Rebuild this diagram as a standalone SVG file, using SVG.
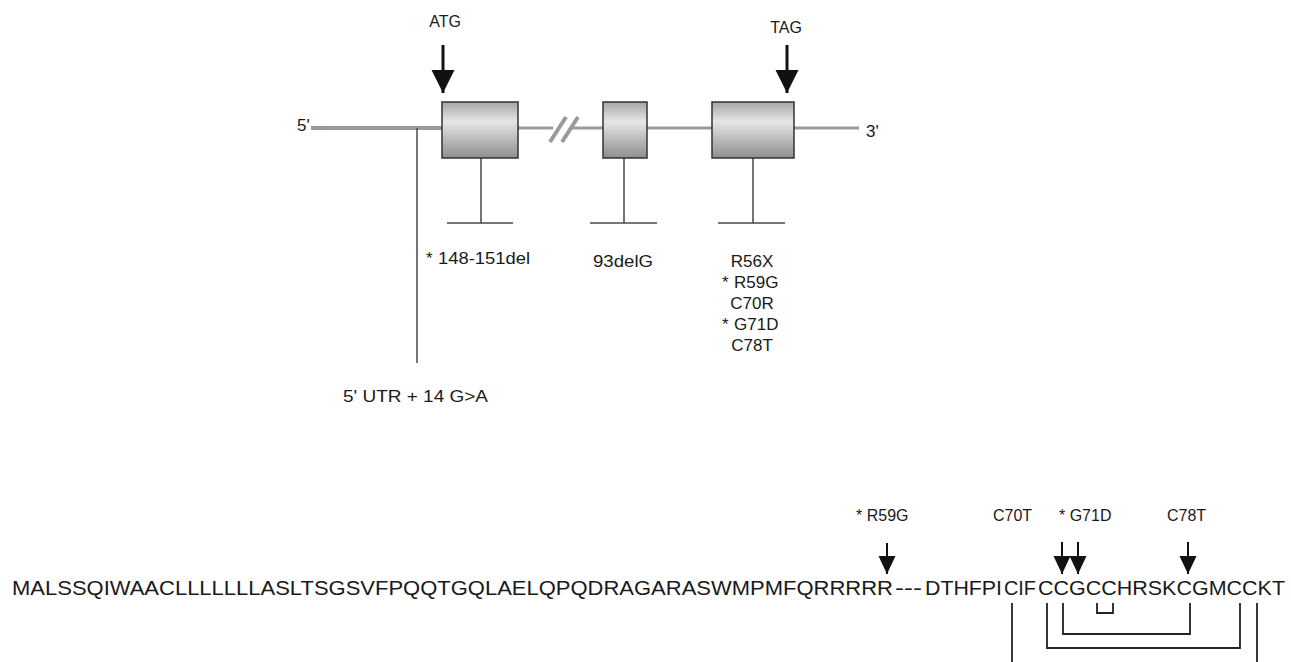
<svg xmlns="http://www.w3.org/2000/svg" width="1291" height="662" viewBox="0 0 1291 662">
<style>
text{font-family:"Liberation Sans",Arial,sans-serif;fill:#1a1a1a}
.lbl{font-size:17px}
.small{font-size:16px}
.seq{font-size:21px}
.gene{stroke:#9a9a9a;fill:none}
.stem{stroke:#4a4a4a;stroke-width:1.5;fill:none}
.bond{stroke:#222;stroke-width:1.8;fill:none}
.exon{fill:url(#exg);stroke:#333;stroke-width:1.5}
.arT{stroke:#111;stroke-width:3;marker-end:url(#headT)}
.arB{stroke:#111;stroke-width:2;marker-end:url(#headB)}
</style>
<defs>
<linearGradient id="exg" x1="0" y1="0" x2="0" y2="1">
<stop offset="0" stop-color="#a6a6a6"/>
<stop offset="0.35" stop-color="#e6e6e6"/>
<stop offset="1" stop-color="#8e8e8e"/>
</linearGradient>
<marker id="headT" markerUnits="userSpaceOnUse" markerWidth="24" markerHeight="24" refX="23" refY="11.5" orient="auto" viewBox="0 0 24 24">
<path d="M0,0 L23,11.5 L0,23 z" fill="#111"/>
</marker>
<marker id="headB" markerUnits="userSpaceOnUse" markerWidth="19" markerHeight="18" refX="18" refY="8.5" orient="auto" viewBox="0 0 19 18">
<path d="M0,0 L18,8.5 L0,17 z" fill="#111"/>
</marker>
</defs>
<rect width="1291" height="662" fill="#fff"/>

<g id="connectors">
<line class="gene" x1="311" y1="128" x2="442" y2="128" stroke-width="4"/>
<line class="gene" x1="518" y1="128" x2="553" y2="128" stroke-width="3"/>
<line class="gene" x1="572" y1="128" x2="603" y2="128" stroke-width="3"/>
<line class="gene" x1="550" y1="142" x2="566" y2="117" stroke-width="4"/>
<line class="gene" x1="562" y1="142" x2="578" y2="117" stroke-width="4"/>
<line class="gene" x1="647" y1="128" x2="712" y2="128" stroke-width="3"/>
<line class="gene" x1="794" y1="128" x2="859" y2="128" stroke-width="3"/>
<line class="arT" x1="443" y1="45" x2="443" y2="93"/>
<line class="arT" x1="787" y1="45" x2="787" y2="93"/>
<line class="stem" x1="417" y1="128" x2="417" y2="363"/>
<path class="stem" d="M481,158 V223 M447,223 H513"/>
<path class="stem" d="M624,158 V223 M590,223 H657"/>
<path class="stem" d="M753,158 V223 M718,223 H785"/>
<line class="arB" x1="887" y1="543" x2="887" y2="574"/>
<line class="arB" x1="1062" y1="542" x2="1062" y2="574"/>
<line class="arB" x1="1078" y1="542" x2="1078" y2="574"/>
<line class="arB" x1="1188" y1="542" x2="1188" y2="574"/>
<path class="bond" d="M1012,603 V662"/>
<path class="bond" d="M1257,603 V662"/>
<path class="bond" d="M1047,603 V648 H1240 V603"/>
<path class="bond" d="M1063,603 V634 H1190 V603"/>
<path class="bond" d="M1097,603 V613 H1113 V603"/>
</g>

<g id="exon1"><rect class="exon" x="442" y="102" width="76" height="56"/></g>
<g id="exon2"><rect class="exon" x="603" y="102" width="44" height="56"/></g>
<g id="exon3"><rect class="exon" x="712" y="102" width="82" height="56"/></g>

<g id="end5"><text x="297" y="131" class="lbl">5'</text></g>
<g id="end3"><text x="866" y="137" class="lbl">3'</text></g>
<g id="atg"><text x="445" y="27" class="small" text-anchor="middle">ATG</text></g>
<g id="tag"><text x="786" y="33" class="small" text-anchor="middle">TAG</text></g>

<g id="mut-utr"><text x="343" y="402" class="lbl" textLength="145" lengthAdjust="spacingAndGlyphs">5' UTR + 14 G&gt;A</text></g>
<g id="mut-ex1"><text x="426" y="264" class="lbl">*</text><text x="438" y="264" class="lbl" textLength="92" lengthAdjust="spacingAndGlyphs">148-151del</text></g>
<g id="mut-ex2"><text x="593" y="267" class="lbl" textLength="60" lengthAdjust="spacingAndGlyphs">93delG</text></g>
<g id="mut-ex3">
<text x="752" y="267" class="lbl" text-anchor="middle">R56X</text>
<text x="722" y="288" class="lbl">*</text><text x="734" y="288" class="lbl">R59G</text>
<text x="752" y="309" class="lbl" text-anchor="middle">C70R</text>
<text x="722" y="330" class="lbl">*</text><text x="734" y="330" class="lbl">G71D</text>
<text x="752" y="351" class="lbl" text-anchor="middle">C78T</text>
</g>

<g id="protein">
<text x="12" y="595" class="seq" textLength="881" lengthAdjust="spacingAndGlyphs">MALSSQIWAACLLLLLLLASLTSGSVFPQQTGQLAELQPQDRAGARASWMPMFQRRRRR</text>
<text x="895" y="595" class="seq" textLength="27" lengthAdjust="spacingAndGlyphs">---</text>
<text x="925" y="595" class="seq" textLength="77" lengthAdjust="spacingAndGlyphs">DTHFPI</text>
<text x="1004" y="595" class="seq" textLength="32" lengthAdjust="spacingAndGlyphs">CIF</text>
<text x="1038" y="595" class="seq" textLength="247" lengthAdjust="spacingAndGlyphs">CCGCCHRSKCGMCCKT</text>
</g>
<g id="prot-labels">
<text x="856" y="521" class="small">* R59G</text>
<text x="993" y="521" class="small">C70T</text>
<text x="1059" y="521" class="small">* G71D</text>
<text x="1167" y="521" class="small">C78T</text>
</g>
</svg>
